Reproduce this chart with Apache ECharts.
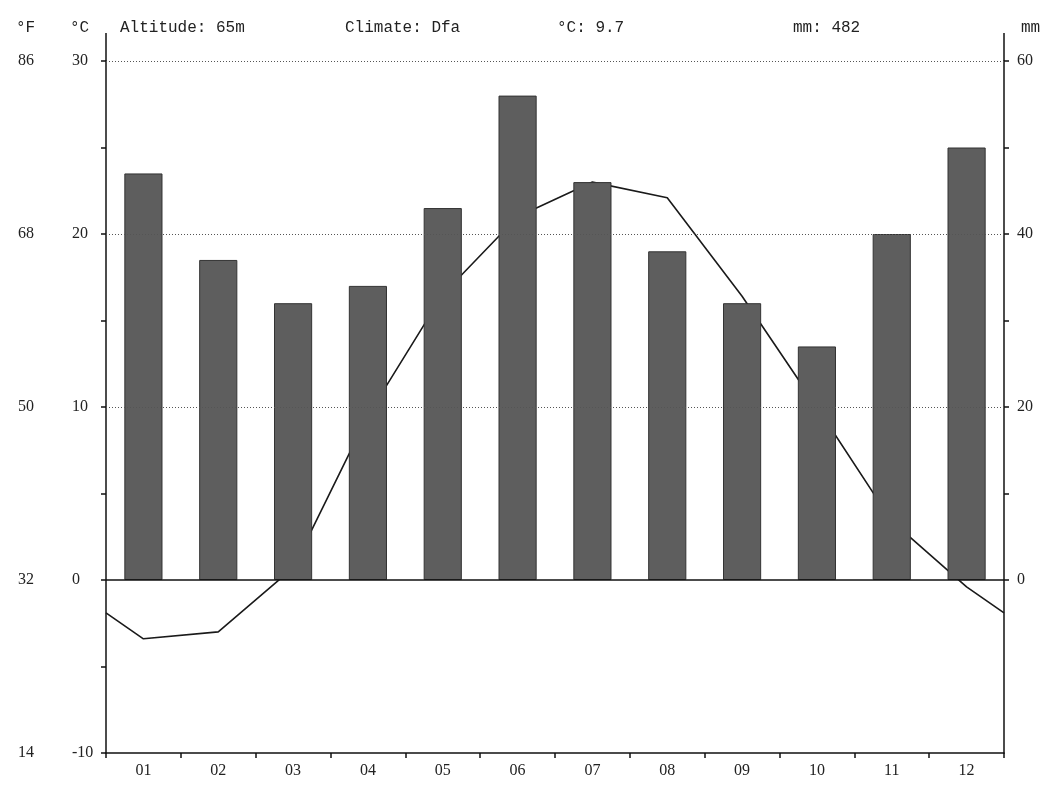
<!DOCTYPE html>
<html>
<head>
<meta charset="utf-8">
<title>Climate diagram</title>
<script src="https://cdn.jsdelivr.net/npm/echarts@6/dist/echarts.min.js"></script>
<style>
  html, body { margin: 0; padding: 0; background: #ffffff; }
  #chart { width: 1049px; height: 786px; }
</style>
</head>
<body>
<div id="chart"></div>
<script>
// Monthly climate normals
const months = ['01', '02', '03', '04', '05', '06', '07', '08', '09', '10', '11', '12'];
const precipitationMm = [47, 37, 32, 34, 43, 56, 46, 38, 32, 27, 40, 50];
const temperatureC = [-3.4, -3.0, 0.7, 9.5, 16.5, 21.0, 23.0, 22.1, 16.4, 10.0, 3.4, -0.4];
// temperature at the year boundary (start of Jan / end of Dec)
const boundaryTemperatureC = [-1.9, -1.9];

const celsiusTicks = [-10, 0, 10, 20, 30];
const fahrenheitTicks = [14, 32, 50, 68, 86];
const mmTicks = [0, 20, 40, 60];
const gridValuesC = [10, 20, 30];

const headerTexts = [
  { text: '°F', x: 16 },
  { text: '°C', x: 70 },
  { text: 'Altitude: 65m', x: 120 },
  { text: 'Climate: Dfa', x: 345 },
  { text: '°C: 9.7', x: 557 },
  { text: 'mm: 482', x: 793 },
  { text: 'mm', x: 1021 }
];

const GRID = { left: 106, right: 45, top: 61, bottom: 33 };
const AXIS_TOP = 33;
const W = 1049;

const tempPoints = [[0.5, boundaryTemperatureC[0]]]
  .concat(temperatureC.map((t, i) => [i + 1, t]))
  .concat([[12.5, boundaryTemperatureC[1]]]);

const serif = 'Liberation Serif';
const mono = 'Liberation Mono';

const chart = echarts.init(document.getElementById('chart'), null, { renderer: 'canvas' });

const option = {
  animation: false,
  backgroundColor: '#ffffff',
  grid: { left: GRID.left, right: GRID.right, top: GRID.top, bottom: GRID.bottom },
  xAxis: [
    {
      type: 'category',
      data: months,
      boundaryGap: true,
      position: 'bottom',
      axisLine: { show: true, onZero: false, lineStyle: { color: '#111', width: 1.5 } },
      axisTick: { show: true, length: 5, lineStyle: { color: '#111', width: 1.5 } },
      axisLabel: { color: '#222', fontFamily: serif, fontSize: 16, margin: 10 },
      splitLine: { show: false }
    },
    {
      type: 'value',
      min: 0.5,
      max: 12.5,
      show: false
    }
  ],
  yAxis: [
    {
      type: 'value',
      position: 'left',
      min: -10,
      max: 30,
      interval: 5,
      axisLine: { show: true, onZero: false, lineStyle: { color: '#111', width: 1.5 } },
      axisTick: { show: true, length: 5, lineStyle: { color: '#111', width: 1.5 } },
      axisLabel: {
        color: '#222', fontFamily: serif, fontSize: 16, align: 'left', margin: 34,
        customValues: celsiusTicks,
        formatter: v => (celsiusTicks.indexOf(v) >= 0 ? String(v) : '')
      },
      splitLine: { show: false }
    },
    {
      type: 'value',
      position: 'left',
      offset: 0,
      min: 14,
      max: 86,
      interval: 18,
      axisLine: { show: false, onZero: false },
      axisTick: { show: false },
      axisLabel: {
        color: '#222', fontFamily: serif, fontSize: 16, align: 'left', margin: 88,
        formatter: v => (fahrenheitTicks.indexOf(v) >= 0 ? String(v) : '')
      },
      splitLine: { show: false }
    },
    {
      type: 'value',
      position: 'right',
      min: -20,
      max: 60,
      interval: 10,
      axisLine: { show: true, onZero: false, lineStyle: { color: '#111', width: 1.5 } },
      axisTick: {
        show: true, length: 5, lineStyle: { color: '#111', width: 1.5 },
        customValues: [0, 10, 20, 30, 40, 50, 60]
      },
      axisLabel: {
        color: '#222', fontFamily: serif, fontSize: 16, align: 'left', margin: 13,
        customValues: mmTicks,
        formatter: v => (mmTicks.indexOf(v) >= 0 ? String(v) : '')
      },
      splitLine: { show: false }
    }
  ],
  series: [
    {
      // reference lines: dotted grid and the solid freezing line
      type: 'line',
      xAxisIndex: 1,
      yAxisIndex: 0,
      data: [],
      z: 1,
      silent: true,
      markLine: {
        silent: true,
        symbol: 'none',
        label: { show: false },
        animation: false,
        data: gridValuesC.map(v => ({
          yAxis: v,
          lineStyle: { type: [1, 2], color: '#555', width: 1 }
        })).concat([{
          yAxis: 0,
          lineStyle: { type: 'solid', color: '#111', width: 1.5 }
        }])
      }
    },
    {
      name: 'Temperature',
      type: 'line',
      xAxisIndex: 1,
      yAxisIndex: 0,
      data: tempPoints,
      symbol: 'none',
      z: 1,
      lineStyle: { color: '#1a1a1a', width: 1.6 },
      silent: true
    },
    {
      name: 'Precipitation',
      type: 'bar',
      xAxisIndex: 0,
      yAxisIndex: 2,
      data: precipitationMm,
      barWidth: '51%',
      z: 2,
      itemStyle: { color: '#5e5e5e', borderColor: '#333', borderWidth: 1 },
      silent: true
    }
  ],
  graphic: [
    // axis lines continue above the top of the scale
    {
      type: 'line', silent: true,
      shape: { x1: GRID.left, y1: AXIS_TOP, x2: GRID.left, y2: GRID.top },
      style: { stroke: '#111', lineWidth: 1.5 }
    },
    {
      type: 'line', silent: true,
      shape: { x1: W - GRID.right, y1: AXIS_TOP, x2: W - GRID.right, y2: GRID.top },
      style: { stroke: '#111', lineWidth: 1.5 }
    }
  ].concat(headerTexts.map(h => ({
    type: 'text',
    silent: true,
    left: h.x,
    top: 20,
    style: { text: h.text, fill: '#222', font: '16px "' + mono + '"' }
  })))
};

chart.setOption(option);
</script>
</body>
</html>
